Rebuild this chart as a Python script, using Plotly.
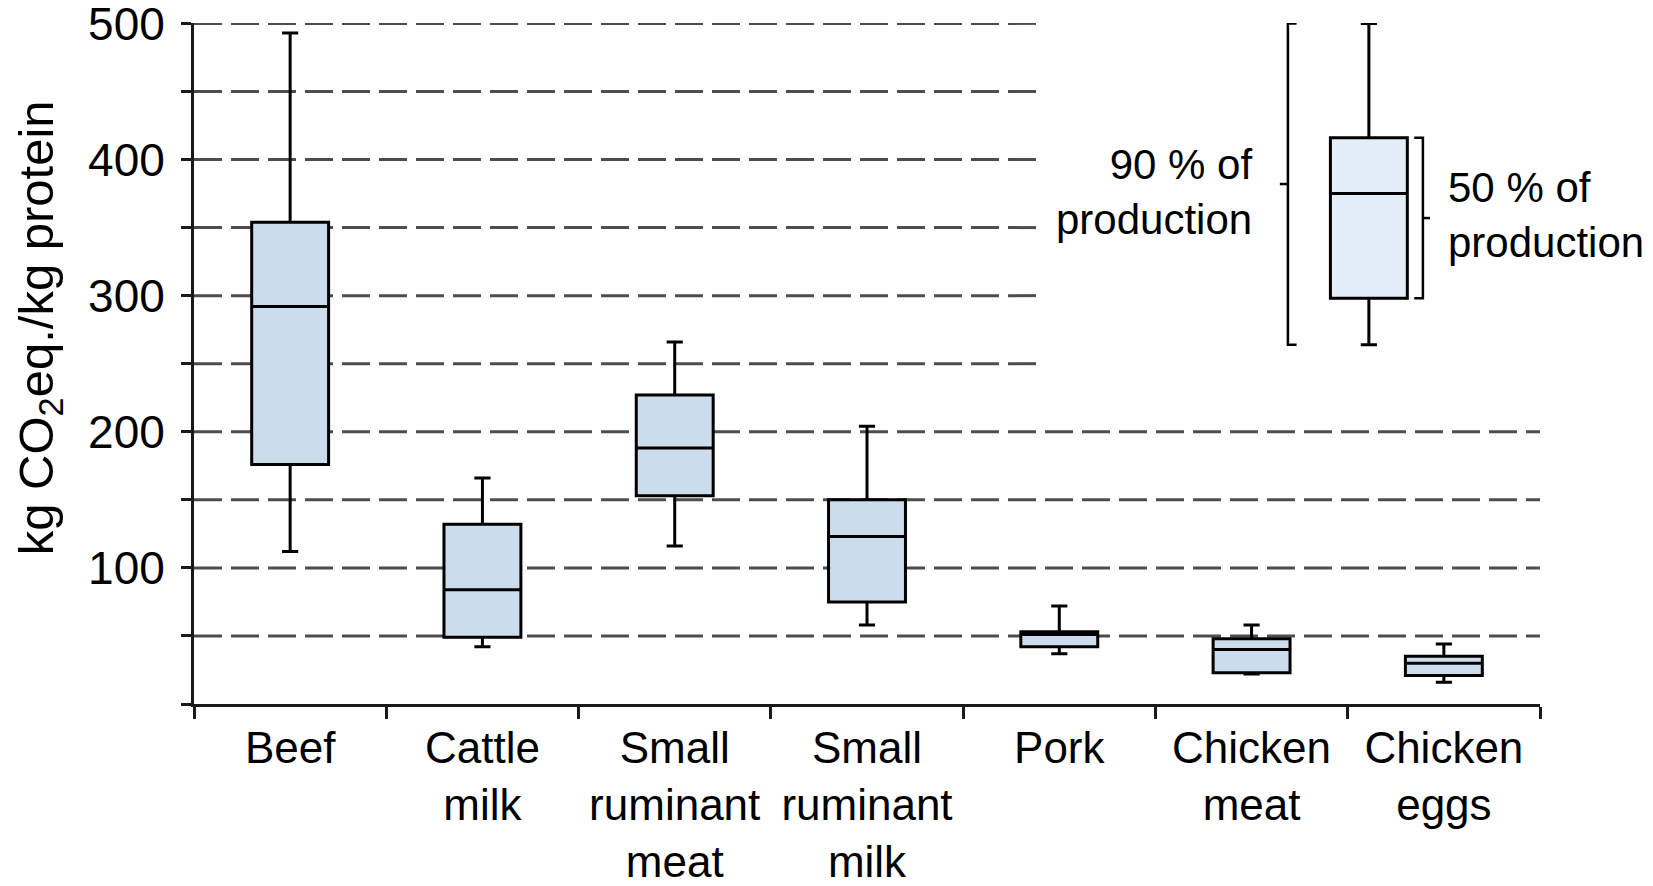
import plotly.graph_objects as go

# Greenhouse gas emission intensity by commodity (kg CO2-eq per kg protein)
categories = ["Beef", "Cattle milk", "Small ruminant meat", "Small ruminant milk",
              "Pork", "Chicken meat", "Chicken eggs"]
tick_labels = ["Beef", "Cattle<br>milk", "Small<br>ruminant<br>meat", "Small<br>ruminant<br>milk",
               "Pork", "Chicken<br>meat", "Chicken<br>eggs"]

# 5th / 25th / 50th / 75th / 95th percentiles of production
p05 = [112, 42, 116, 58, 37, 22, 16]
p25 = [176, 49, 153, 75, 42, 23, 21]
p50 = [292, 84, 188, 123, 51, 40, 30]
p75 = [354, 132, 227, 150, 53, 48, 35]
p95 = [493, 166, 266, 204, 72, 58, 44]

# Key box explaining the percentile ranges
key_stats = {"p05": 264, "p25": 298, "p50": 375, "p75": 416, "p95": 500}
key_pos = 5.61

y_ticks = [100, 200, 300, 400, 500]
grid_values = [50, 100, 150, 200, 250, 300, 350, 400, 450, 500]
grid_short_from = 250

FONT = "Liberation Sans, Arial, sans-serif"
AXIS_COLOR = "#1a1a1a"

fig = go.Figure()

fig.add_trace(go.Box(
    x=categories,
    lowerfence=p05, q1=p25, median=p50, q3=p75, upperfence=p95,
    fillcolor="#cbdcec",
    line=dict(color="black", width=3),
    whiskerwidth=0.21,
    width=0.4,
    hoverinfo="skip",
    showlegend=False,
))

fig.add_trace(go.Box(
    x=[key_pos],
    lowerfence=[key_stats["p05"]], q1=[key_stats["p25"]], median=[key_stats["p50"]],
    q3=[key_stats["p75"]], upperfence=[key_stats["p95"]],
    fillcolor="#e4eef8",
    line=dict(color="black", width=3),
    whiskerwidth=0.21,
    width=0.4,
    xaxis="x2", yaxis="y",
    hoverinfo="skip",
    showlegend=False,
))

shapes = []
# dashed horizontal reference lines
for v in grid_values:
    shapes.append(dict(
        type="line", xref="x domain", yref="y",
        x0=0, x1=0.6315 if v >= grid_short_from else 1.0, y0=v, y1=v,
        line=dict(color="#4d4d4d", width=3, dash="28px,9px"),
        layer="below",
    ))

# brackets around the key box
def bracket(x, hook, tip, lo, hi):
    mid = (lo + hi) / 2
    return [
        dict(type="path", xref="x2", yref="y",
             path=f"M {x + hook},{hi} L {x},{hi} L {x},{lo} L {x + hook},{lo}",
             line=dict(color="black", width=2.5)),
        dict(type="line", xref="x2", yref="y", x0=x, x1=x + tip, y0=mid, y1=mid,
             line=dict(color="black", width=2.5)),
    ]

shapes += bracket(5.189, 0.045, -0.042, key_stats["p05"], key_stats["p95"])
shapes += bracket(5.891, -0.045, 0.037, key_stats["p25"], key_stats["p75"])

annotations = [
    dict(text="kg CO<sub>2</sub>eq./kg protein", textangle=-90,
         xref="paper", yref="paper", x=-0.115, y=0.552,
         xanchor="center", yanchor="middle", showarrow=False,
         font=dict(family=FONT, size=49, color="black")),
    dict(text="90 % of<br>production", xref="x2", yref="y", x=5.012, y=376,
         xanchor="right", yanchor="middle", align="right", showarrow=False,
         font=dict(family=FONT, size=42, color="black")),
    dict(text="50 % of<br>production", xref="x2", yref="y", x=6.011, y=359,
         xanchor="left", yanchor="middle", align="left", showarrow=False,
         font=dict(family=FONT, size=42, color="black")),
]

fig.update_layout(
    width=1653, height=886,
    margin=dict(l=194, r=113, t=23, b=182, autoexpand=False),
    paper_bgcolor="white", plot_bgcolor="white",
    font=dict(family=FONT, size=44, color="black"),
    showlegend=False,
    shapes=shapes,
    annotations=annotations,
    xaxis=dict(
        type="category",
        categoryorder="array", categoryarray=categories,
        tickvals=categories, ticktext=tick_labels,
        range=[-0.5, 6.5],
        tickson="boundaries",
        ticks="outside", ticklen=12, tickwidth=2.5, tickcolor=AXIS_COLOR,
        ticklabelstandoff=3,
        showline=True, linecolor=AXIS_COLOR, linewidth=3,
        showgrid=False, zeroline=False,
        automargin=False,
        tickfont=dict(family=FONT, size=44, color="black"),
    ),
    xaxis2=dict(
        overlaying="x", range=[-0.5, 6.5], visible=False,
        showgrid=False, zeroline=False, fixedrange=True,
    ),
    yaxis=dict(
        range=[0, 500.3],
        tickvals=y_ticks,
        ticks="outside", ticklen=10, tickwidth=2.5, tickcolor=AXIS_COLOR,
        ticklabelstandoff=7,
        ticklabeloverflow="allow",
        minor=dict(tick0=0, dtick=50, ticks="outside", ticklen=10,
                   tickwidth=2.5, tickcolor=AXIS_COLOR, showgrid=False),
        showline=True, linecolor=AXIS_COLOR, linewidth=3,
        showgrid=False, zeroline=False,
        automargin=False,
        tickfont=dict(family=FONT, size=46, color="black"),
    ),
)

fig.write_html("out.html")
